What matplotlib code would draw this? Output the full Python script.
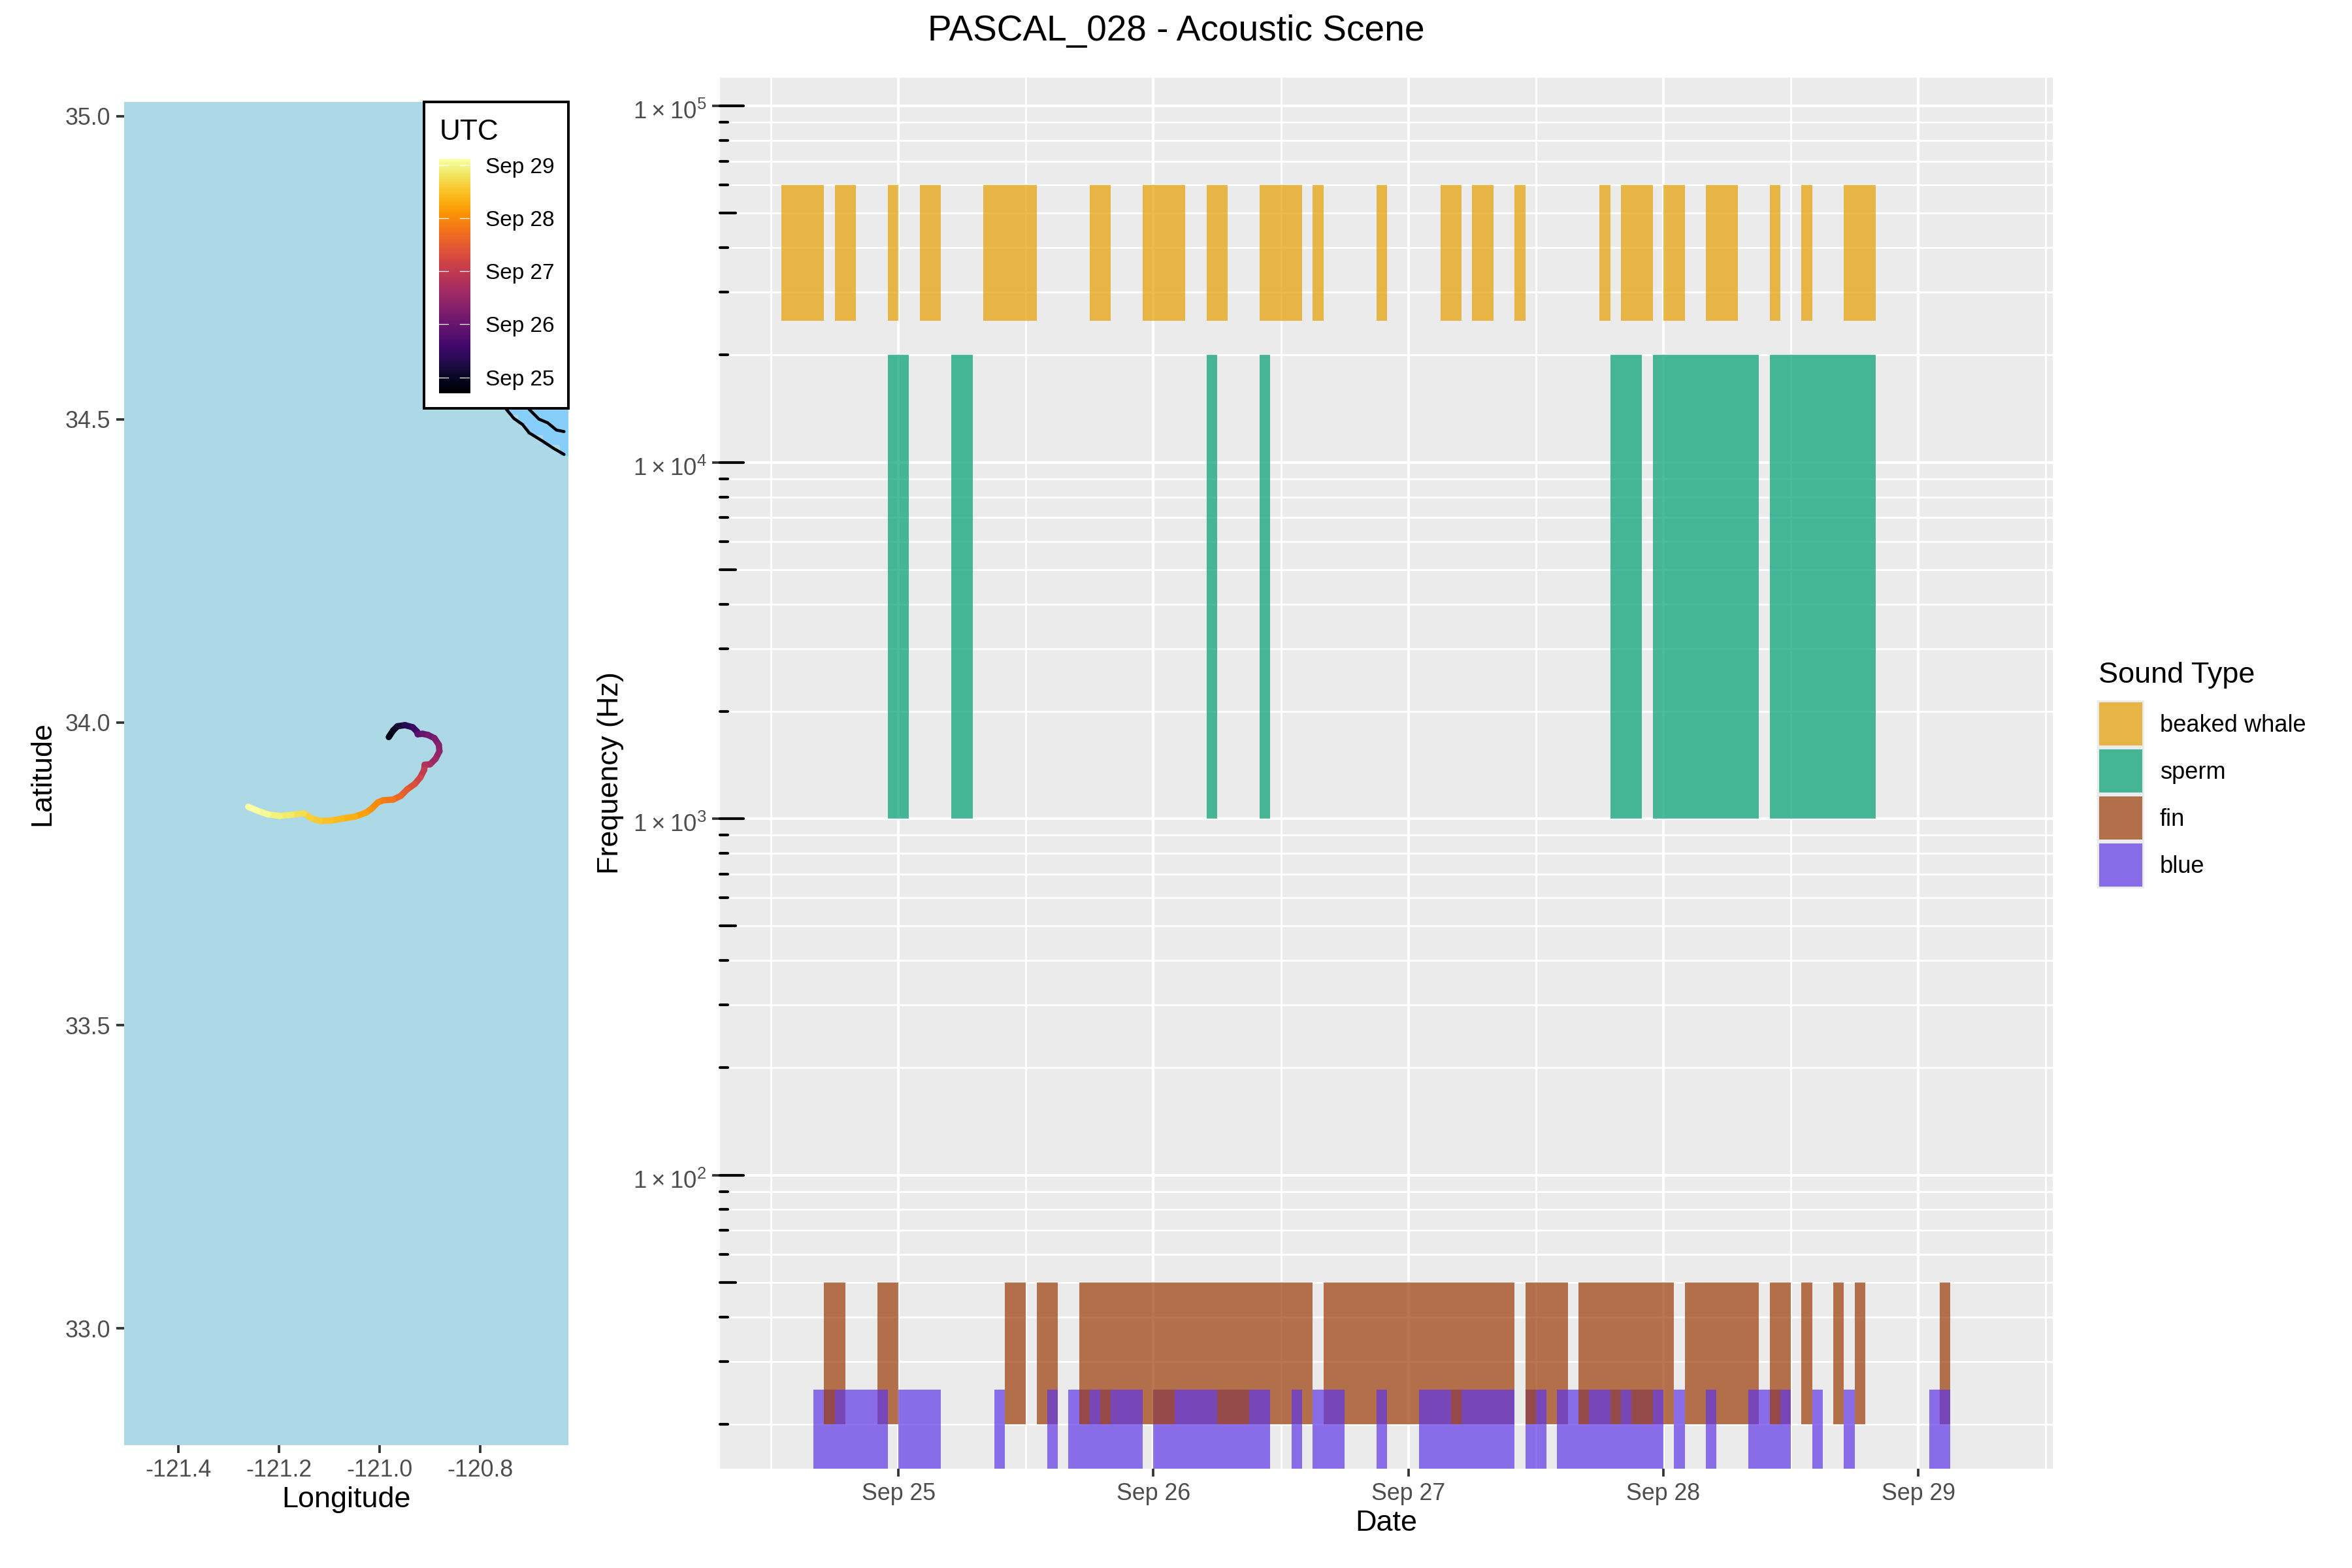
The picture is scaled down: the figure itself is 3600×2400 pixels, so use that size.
import numpy as np
import matplotlib
matplotlib.use('Agg')
import matplotlib.pyplot as plt
from matplotlib.collections import LineCollection
from matplotlib.patches import Rectangle
from matplotlib.transforms import blended_transform_factory, ScaledTranslation

plt.rcParams['font.family'] = ['Liberation Sans', 'DejaVu Sans']
plt.rcParams['mathtext.fontset'] = 'custom'
plt.rcParams['mathtext.rm'] = 'Liberation Sans'
plt.rcParams['mathtext.default'] = 'regular'

# detection periods, hours from Sep 25 00:00 UTC
beaked_hours = [(-11, -7), (-6, -4), (-1, 0), (2, 4), (8, 13), (18, 20), (23, 27), (29, 31), (34, 38), (39, 40),
                (45, 46), (51, 53), (54, 56), (58, 59), (66, 67), (68, 71), (72, 74), (76, 79), (82, 83), (85, 86),
                (89, 92)]
sperm_hours = [(-1, 1), (5, 7), (29, 30), (34, 35), (67, 70), (71, 81), (82, 92)]
fin_hours = [(-7, -5), (-2, 0), (10, 12), (13, 15), (17, 39), (40, 58), (59, 63), (64, 73), (74, 81), (82, 84),
             (85, 86), (88, 89), (90, 91), (98, 99)]
# blue hours that sit under the fin bars / on top of them
blue_under_hours = [(-7, -6), (17, 18), (19, 20), (24, 26), (30, 33), (52, 53), (59, 60), (64, 65), (67, 68),
                    (69, 71), (82, 83)]
blue_over_hours = [(-8, -7), (-6, -1), (0, 4), (9, 10), (14, 15), (16, 17), (18, 19), (20, 23), (26, 30), (33, 35),
                   (37, 38), (39, 42), (45, 46), (49, 52), (53, 58), (60, 61), (62, 64), (65, 67), (68, 69),
                   (71, 72), (73, 74), (76, 77), (80, 82), (83, 84), (86, 87), (89, 90), (97, 99)]

# frequency bands, Hz
beaked_band = (25000, 60000)
sperm_band = (1000, 20000)
fin_band = (20, 50)
blue_band = (15, 25)

sound_types = ['beaked whale', 'sperm', 'fin', 'blue']
sound_colors = ['#E69F00', '#009E73', '#9B3B05', '#6037E7']

day_ticks = [0, 24, 48, 72, 96]
day_labels = ['Sep 25', 'Sep 26', 'Sep 27', 'Sep 28', 'Sep 29']

# glider track
track_lon = [-120.9818, -120.9732, -120.9645, -120.9494, -120.9342, -120.9256, -120.9242, -120.9147, -120.9039,
             -120.8909, -120.8823, -120.8810, -120.8888, -120.8996, -120.9104, -120.9113, -120.9191, -120.9299,
             -120.9450, -120.9580, -120.9732, -120.9927, -121.0035, -121.0165, -121.0273, -121.0489, -121.0749,
             -121.0966, -121.1182, -121.1355, -121.1507, -121.1745, -121.1983, -121.2221, -121.2437, -121.2611]
track_lat = [33.9756, 33.9864, 33.9935, 33.9953, 33.9918, 33.9846, 33.9803, 33.9810, 33.9792,
             33.9738, 33.9630, 33.9522, 33.9397, 33.9307, 33.9300, 33.9217, 33.9091, 33.8984,
             33.8894, 33.8786, 33.8725, 33.8714, 33.8678, 33.8571, 33.8509, 33.8445, 33.8409,
             33.8380, 33.8373, 33.8416, 33.8499, 33.8474, 33.8456, 33.8481, 33.8545, 33.8606]
track_hour = [-7, -4, -1, 3, 8, 12, 15, 20, 23,
              26, 29, 32, 35, 38, 41, 44, 48, 52,
              56, 60, 63, 67, 69, 72, 74, 77, 80,
              82, 84, 85.5, 87, 90, 92.5, 94.5, 97, 99]

# shallow water corner and the two depth contours
shallow_lon = [-120.7503, -120.7351, -120.7243, -120.7243, -120.7078, -120.7078, -120.6741, -120.6741, -120.6412,
               -120.6412, -120.6247, -120.6247]
shallow_lat = [34.5199, 34.5073, 34.5073, 34.4911, 34.4911, 34.4742, 34.4742, 34.4577, 34.4577,
               34.4401, 34.4401, 34.5199]
contour_a_lon = [-120.7481, -120.7330, -120.7156, -120.7027, -120.6767, -120.6550, -120.6334]
contour_a_lat = [34.5163, 34.5012, 34.4911, 34.4775, 34.4642, 34.4523, 34.4419]
contour_b_lon = [-120.7027, -120.6832, -120.6658, -120.6485, -120.6334]
contour_b_lat = [34.5163, 34.5001, 34.4940, 34.4821, 34.4796]

W, H = 3600, 2400
GRAY30 = '#4D4D4D'
GRAY20 = '#333333'


def panel(x0, y0, x1, y1):
    # pixel box (top-left origin) to figure fractions
    return [x0 / W, 1 - y1 / H, (x1 - x0) / W, (y1 - y0) / H]


def spans(hours):
    return [(a, b - a) for a, b in hours]


fig = plt.figure(figsize=(12, 8), dpi=300)
fig.text(1800 / W, 1 - 48 / H, 'PASCAL_028 - Acoustic Scene', ha='center', va='center', fontsize=13.2)

# ---- map ----
ax_map = fig.add_axes(panel(190, 156, 870, 2212))
ax_map.set_facecolor('#ADD8E6')
ax_map.fill(shallow_lon, shallow_lat, color='#87CEFA', lw=0, antialiased=False)
ax_map.plot(contour_a_lon, contour_a_lat, color='black', lw=1.1, solid_capstyle='round')
ax_map.plot(contour_b_lon, contour_b_lat, color='black', lw=1.1, solid_capstyle='round')

pts = np.column_stack([track_lon, track_lat])
segs = np.stack([pts[:-1], pts[1:]], axis=1)
track = LineCollection(segs, cmap='inferno', linewidths=2.3, capstyle='round')
track.set_array(np.array(track_hour[1:]))
track.set_clim(-7.2, 99)
ax_map.add_collection(track)

ax_map.set_xlim(-121.5078, -120.6247)
ax_map.set_ylim(32.8075, 35.0234)
ax_map.set_xticks([-121.4, -121.2, -121.0, -120.8])
ax_map.set_xticklabels(['-121.4', '-121.2', '-121.0', '-120.8'])
ax_map.set_yticks([33.0, 33.5, 34.0, 34.5, 35.0])
ax_map.set_yticklabels(['33.0', '33.5', '34.0', '34.5', '35.0'], va='center_baseline')
ax_map.tick_params(length=2.8, width=0.9, color=GRAY20, labelcolor=GRAY30, labelsize=8.6, pad=2.2)
for s in ax_map.spines.values():
    s.set_visible(False)
ax_map.set_xlabel('Longitude', fontsize=10.8, labelpad=1.7)
ax_map.set_ylabel('Latitude', fontsize=10.8, labelpad=3.5)

# ---- acoustic scene ----
ax = fig.add_axes(panel(1102, 119, 3142, 2248))
ax.set_facecolor('#EBEBEB')
ax.set_yscale('log')
ax.set_xlim(-16.8, 108.65)
ax.set_ylim(15, 120000)

minor_x = [-12, 12, 36, 60, 84, 108]
major_y = [1e2, 1e3, 1e4, 1e5]
minor_y = [m * 10.0 ** k for k in range(1, 5) for m in range(2, 10) if 15 < m * 10.0 ** k < 120000]
ax.set_xticks(day_ticks)
ax.set_xticklabels(day_labels)
ax.set_xticks(minor_x, minor=True)
ax.set_yticks(major_y)
ax.set_yticklabels([r'$1\times10^{%d}$' % k for k in [2, 3, 4, 5]])
ax.set_yticks(minor_y, minor=True)
ax.set_yticklabels([], minor=True)
ax.tick_params(which='major', length=2.8, width=0.9, color=GRAY20, labelcolor=GRAY30, labelsize=8.6, pad=2.2)
ax.tick_params(axis='y', which='major', labelsize=8.8)
ax.tick_params(which='minor', length=0)
ax.grid(which='major', color='white', lw=1.0)
ax.grid(which='minor', color='white', lw=0.65)
ax.set_axisbelow(True)
for s in ax.spines.values():
    s.set_visible(False)
# labels sit a little under their ticks
down = ScaledTranslation(0, -6 / 300, fig.dpi_scale_trans)
for lbl in ax.get_yticklabels():
    lbl.set_transform(lbl.get_transform() + down)

alpha = 0.7
bars = dict(edgecolor='none', alpha=alpha, antialiased=False)
ax.broken_barh(spans(beaked_hours), (beaked_band[0], beaked_band[1] - beaked_band[0]), facecolor=sound_colors[0], **bars)
ax.broken_barh(spans(sperm_hours), (sperm_band[0], sperm_band[1] - sperm_band[0]), facecolor=sound_colors[1], **bars)
ax.broken_barh(spans(blue_under_hours), (blue_band[0], blue_band[1] - blue_band[0]), facecolor=sound_colors[3], **bars)
ax.broken_barh(spans(fin_hours), (fin_band[0], fin_band[1] - fin_band[0]), facecolor=sound_colors[2], **bars)
ax.broken_barh(spans(blue_over_hours), (blue_band[0], blue_band[1] - blue_band[0]), facecolor=sound_colors[3], **bars)

# log ticks inside the left edge
tr = blended_transform_factory(ax.transAxes, ax.transData)
for y in major_y + minor_y:
    first = round(y / 10 ** np.floor(np.log10(y)))
    length = 36 if first == 1 else (24 if first == 5 else 12)
    ax.plot([0, length / 2040], [y, y], transform=tr, color='black', lw=1.0, solid_capstyle='round', clip_on=False,
            zorder=5)

ax.set_xlabel('Date', fontsize=10.8, labelpad=1.7)
ax.set_ylabel('Frequency (Hz)', fontsize=10.8)
ax.yaxis.set_label_coords(-0.072, 0.5)

# ---- overlay for the two legends, in pixels ----
ov = fig.add_axes([0, 0, 1, 1], zorder=5)
ov.set_xlim(0, W)
ov.set_ylim(H, 0)
ov.axis('off')

ov.add_patch(Rectangle((648.5, 156), 221.5, 469, facecolor='white', edgecolor='black', lw=0.95))
ov.text(673, 214, 'UTC', fontsize=10.6, va='baseline')
for label, tick in zip(day_labels, day_ticks):
    y = 577.6 - tick / 24 * 81.2
    ov.text(743, y, label, fontsize=8, va='center_baseline')

cax = fig.add_axes(panel(672, 242.5, 719, 602), zorder=6)
cax.imshow(np.linspace(99, -7.2, 300).reshape(-1, 1), cmap='inferno', aspect='auto', vmin=-7.2, vmax=99,
           extent=[0, 1, -7.2, 99])
for tick in day_ticks:
    cax.plot([0, 0.3], [tick, tick], color='white', lw=0.3)
    cax.plot([0.68, 1], [tick, tick], color='white', lw=0.3)
cax.set_xlim(0, 1)
cax.set_ylim(-7.2, 99)
cax.axis('off')

ov.text(3212, 1045, 'Sound Type', fontsize=10.8, va='baseline')
ov.add_patch(Rectangle((3210, 1072), 72, 288, facecolor='#EBEBEB', edgecolor='none'))
for i, (name, col) in enumerate(zip(sound_types, sound_colors)):
    ov.add_patch(Rectangle((3213, 1075 + 72 * i), 66, 66, facecolor='#EBEBEB', edgecolor='none'))
    ov.add_patch(Rectangle((3213, 1075 + 72 * i), 66, 66, facecolor=col, edgecolor='none', alpha=alpha))
    ov.text(3306, 1106 + 72 * i, name, fontsize=8.7, va='center_baseline')

fig.savefig('out.png', dpi=300)
